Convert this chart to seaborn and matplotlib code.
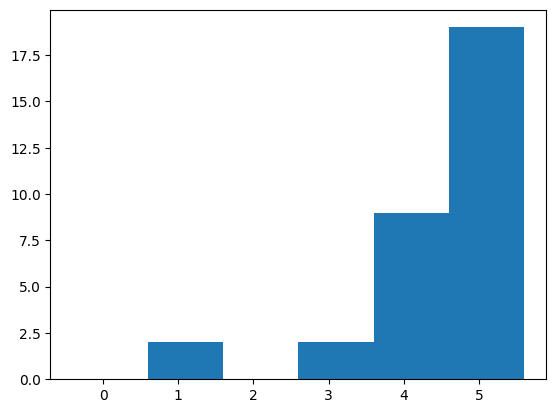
import numpy as np
import matplotlib
matplotlib.use('Agg')
import matplotlib.pyplot as plt
import seaborn as sns

# valores y conteos
valores = [0, 1, 2, 3, 4, 5]
conteos = [0, 2, 0, 2, 9, 19]
bordes = [v - 0.4 for v in range(7)]

fig, ax = plt.subplots(figsize=(6.4, 4.8), dpi=100)
sns.histplot(x=valores, weights=conteos, bins=bordes, color='#1f77b4',
             alpha=1, linewidth=0, ax=ax)
ax.set_ylabel('')
ax.set_xlabel('')
fig.savefig('out.png', dpi=100, bbox_inches='tight')
